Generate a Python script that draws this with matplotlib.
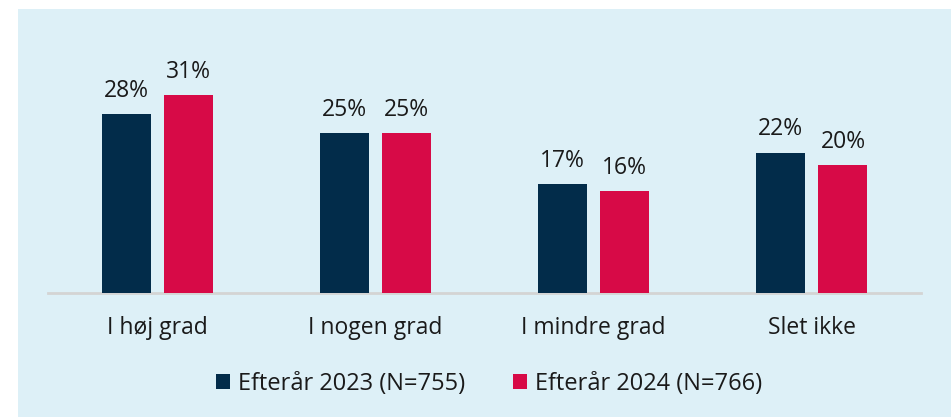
import numpy as np
import matplotlib
matplotlib.use("Agg")
import matplotlib.pyplot as plt
from matplotlib.patches import Rectangle

categories = ["I høj grad", "I nogen grad", "I mindre grad", "Slet ikke"]
series_names = ["Efterår 2023 (N=755)", "Efterår 2024 (N=766)"]
values_2023 = [28, 25, 17, 22]
values_2024 = [31, 25, 16, 20]

navy = "#022C4A"
red = "#D70A47"
bg = "#DDF0F7"

plt.rcParams['font.family'] = ['Open Sans', 'DejaVu Sans']

fig = plt.figure(figsize=(9.52, 4.17), dpi=100)
fig.patch.set_facecolor("white")
# light blue panel behind the chart
fig.patches.append(Rectangle((18 / 952, 0), 933 / 952, 408 / 417,
                             transform=fig.transFigure, facecolor=bg,
                             edgecolor="none", zorder=-5))

ax = fig.add_axes([48 / 952, 124.3 / 417, 873 / 952, 254.8 / 417])
ax.set_facecolor("none")
ax.set_zorder(2)

x = np.arange(len(categories))
w = 0.2248
off = 0.1424
b1 = ax.bar(x - off, values_2023, w, color=navy, label=series_names[0], zorder=3)
b2 = ax.bar(x + off, values_2024, w, color=red, label=series_names[1], zorder=3)

for bars in (b1, b2):
    for rect in bars:
        h = rect.get_height()
        ax.annotate(f"{h:.0f}%", (rect.get_x() + rect.get_width() / 2, h),
                    xytext=(0, 8), textcoords="offset points",
                    ha="center", va="bottom", fontsize=16.5, color="#1a1a1a")

ax.set_xlim(-0.5, 3.5)
ax.set_ylim(0, 40)
ax.set_xticks(x)
ax.set_xticklabels(categories, fontsize=16.5, color="#1a1a1a")
ax.tick_params(axis="x", length=0, pad=17)
ax.set_yticks([])
for s in ("top", "right", "left"):
    ax.spines[s].set_visible(False)
ax.spines["bottom"].set_color("#D4D4D4")
ax.spines["bottom"].set_linewidth(2)

leg = fig.legend(handles=[b1, b2], labels=series_names, loc="center",
                 bbox_to_anchor=(489 / 952, 1 - 384 / 417), ncol=2,
                 frameon=False, fontsize=17, handlelength=0.6,
                 handleheight=0.6, handletextpad=0.35, columnspacing=2.0)
for t in leg.get_texts():
    t.set_color("#1a1a1a")

fig.savefig("out.png", dpi=100)
